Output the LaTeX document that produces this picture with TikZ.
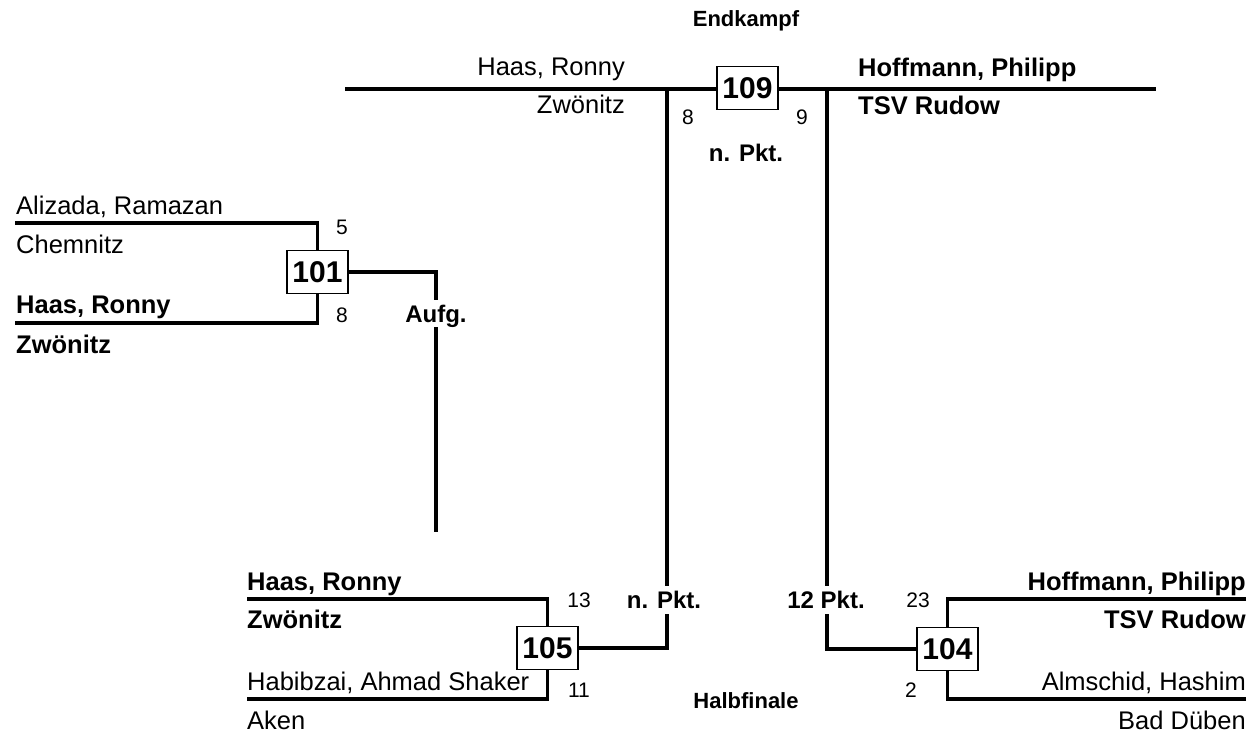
\documentclass[tikz,border=0pt]{standalone}
\usepackage{fontspec}
\setmainfont{Liberation Sans}
\begin{document}
\begin{tikzpicture}[x=1pt,y=-1pt,
  nm/.style={inner sep=0pt,font=\fontsize{25.5}{30}\selectfont},
  nmb/.style={inner sep=0pt,font=\fontsize{25.5}{30}\selectfont\bfseries},
  score/.style={inner sep=0pt,font=\fontsize{21}{25}\selectfont},
  res/.style={inner xsep=1pt,inner ysep=5pt,text height=17pt,text depth=0pt,font=\fontsize{24}{28}\selectfont\bfseries},
  ttl/.style={inner sep=0pt,font=\fontsize{22}{26}\selectfont\bfseries},
  fight/.style={draw,line width=1.5pt,minimum width=61pt,minimum height=43pt,inner sep=0pt,fill=white,font=\fontsize{30}{34}\selectfont\bfseries},
  ln/.style={line width=3.3pt}]
\useasboundingbox (0,0) rectangle (1252,736);

% coordinates of line ends
\coordinate (tL) at (345,89);
\coordinate (tR) at (1156,89);
\coordinate (v1) at (667,89);
\coordinate (v2) at (827,89);
\coordinate (a1) at (15,223);
\coordinate (a2) at (15,323);
\coordinate (c1) at (247,599);
\coordinate (c2) at (247,699);
\coordinate (d1) at (1246,599);
\coordinate (d2) at (1246,699);
\coordinate (e1) at (437,532);

% fight boxes
\node[fight] (b109) at (747.5,88) {109};
\node[fight] (b101) at (317.5,272) {101};
\node[fight] (b105) at (547.5,648) {105};
\node[fight] (b104) at (947.5,649) {104};

% result labels
\node[res] (np1) at (664,600) {n. Pkt.};
\node[res] (pk12) at (826,600) {12 Pkt.};
\node[res] (aufg) at (436,313.5) {Aufg.};
\node[res] (np2) at (746,153) {n. Pkt.};

% titles
\node[ttl,anchor=base] (tEnd) at (746,27) {Endkampf};
\node[ttl,anchor=base] (tHalb) at (746,708) {Halbfinale};

% connectors
\draw[ln] (tL) -- (b109.west |- tL);
\draw[ln] (b109.east |- tR) -- (tR);
\draw[ln] (v1) -- (v1 |- np1.north);
\draw[ln] (b105.east) -| (v1 |- np1.south);
\draw[ln] (v2) -- (v2 |- pk12.north);
\draw[ln] (b104.west) -| (v2 |- pk12.south);
\draw[ln] (a1) -| (b101.north);
\draw[ln] (a2) -| (b101.south);
\draw[ln] (b101.east) -| (aufg.north);
\draw[ln] (aufg.south) -- (aufg.south |- e1);
\draw[ln] (c1) -| (b105.north);
\draw[ln] (c2) -| (b105.south);
\draw[ln] (d1) -| (b104.north);
\draw[ln] (d2) -| (b104.south);

% names: final
\node[nm,anchor=base east] (f1) at (625,75) {Haas, Ronny};
\node[nm,anchor=base east] (f2) at (625,113) {Zwönitz};
\node[nmb,anchor=base west] (f3) at (858,76) {Hoffmann, Philipp};
\node[nmb,anchor=base west] (f4) at (858,114) {TSV Rudow};
\node[score] (s8) at (688,117) {8};
\node[score] (s9) at (802,117) {9};

% fight 101
\node[nm,anchor=base west] (p1) at (16,214) {Alizada, Ramazan};
\node[nm,anchor=base west] (p2) at (16,253) {Chemnitz};
\node[nmb,anchor=base west] (p3) at (16,313) {Haas, Ronny};
\node[nmb,anchor=base west] (p4) at (16,353) {Zwönitz};
\node[score] (s5) at (342,227) {5};
\node[score] (s8b) at (342,315) {8};

% fight 105
\node[nmb,anchor=base west] (q1) at (247,590) {Haas, Ronny};
\node[nmb,anchor=base west] (q2) at (247,628) {Zwönitz};
\node[nm,anchor=base west] (q3) at (247,690) {Habibzai, Ahmad Shaker};
\node[nm,anchor=base west] (q4) at (247,729) {Aken};
\node[score] (s13) at (579,600) {13};
\node[score] (s11) at (579,690) {11};

% fight 104
\node[nmb,anchor=base east] (r1) at (1246,590) {Hoffmann, Philipp};
\node[nmb,anchor=base east] (r2) at (1246,628) {TSV Rudow};
\node[nm,anchor=base east] (r3) at (1246,690) {Almschid, Hashim};
\node[nm,anchor=base east] (r4) at (1246,729) {Bad Düben};
\node[score] (s23) at (918,600) {23};
\node[score] (s2) at (911,690) {2};
\end{tikzpicture}
\end{document}
